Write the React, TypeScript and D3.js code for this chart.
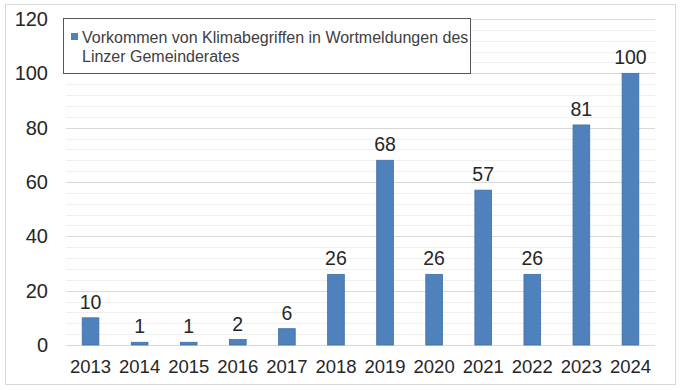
import React, { useEffect, useRef } from 'react';
import * as d3 from 'd3';

const years = ['2013', '2014', '2015', '2016', '2017', '2018', '2019', '2020', '2021', '2022', '2023', '2024'];
const counts = [10, 1, 1, 2, 6, 26, 68, 26, 57, 26, 81, 100];
const yTicks = [0, 20, 40, 60, 80, 100, 120];
const legendLines = ['Vorkommen von Klimabegriffen in Wortmeldungen des', 'Linzer Gemeinderates'];

const FONT = 'Liberation Sans, Arial, sans-serif';

export default function App() {
  const ref = useRef<SVGSVGElement>(null);
  const width = 680;
  const height = 390;
  const margin = { top: 19, right: 25, bottom: 45, left: 66 };

  useEffect(() => {
    const svg = d3.select(ref.current);
    svg.selectAll('*').remove();

    svg.append('rect')
      .attr('x', 5.5).attr('y', 4.5)
      .attr('width', 670).attr('height', 380)
      .attr('fill', '#fff')
      .attr('stroke', '#d9d9d9');

    const x = d3.scaleBand()
      .domain(years)
      .range([margin.left, width - margin.right])
      .paddingInner(0.66)
      .paddingOuter(0.33);

    const y = d3.scaleLinear()
      .domain([0, 120])
      .range([height - margin.bottom, margin.top]);

    // gridlines every 4 units, stronger every 20
    svg.append('g')
      .selectAll('line')
      .data(d3.range(4, 121, 4))
      .enter().append('line')
      .attr('x1', margin.left)
      .attr('x2', width - margin.right)
      .attr('y1', d => Math.round(y(d)) + 0.5)
      .attr('y2', d => Math.round(y(d)) + 0.5)
      .attr('stroke', d => d % 20 === 0 ? '#d9d9d9' : '#efefef');

    svg.append('line')
      .attr('x1', margin.left)
      .attr('x2', width - margin.right)
      .attr('y1', Math.round(y(0)) + 0.5)
      .attr('y2', Math.round(y(0)) + 0.5)
      .attr('stroke', '#d9d9d9');

    svg.append('g')
      .selectAll('text')
      .data(yTicks)
      .enter().append('text')
      .attr('x', 48)
      .attr('y', d => y(d))
      .attr('dy', '0.35em')
      .attr('text-anchor', 'end')
      .attr('font-family', FONT)
      .attr('font-size', 20)
      .attr('fill', '#262626')
      .text(d => d);

    svg.append('g')
      .selectAll('rect')
      .data(counts)
      .enter().append('rect')
      .attr('x', (d, i) => x(years[i])!)
      .attr('y', d => y(d))
      .attr('width', x.bandwidth())
      .attr('height', d => y(0) - y(d))
      .attr('fill', '#4f81bd')
      .attr('stroke', '#3f6fa8')
      .attr('stroke-width', 0.8);

    svg.append('g')
      .selectAll('text')
      .data(counts)
      .enter().append('text')
      .attr('x', (d, i) => x(years[i])! + x.bandwidth() / 2)
      .attr('y', d => y(d) - 9)
      .attr('text-anchor', 'middle')
      .attr('font-family', FONT)
      .attr('font-size', 19.5)
      .attr('fill', '#262626')
      .text(d => d);

    svg.append('g')
      .selectAll('text')
      .data(years)
      .enter().append('text')
      .attr('x', d => x(d)! + x.bandwidth() / 2)
      .attr('y', 373)
      .attr('text-anchor', 'middle')
      .attr('font-family', FONT)
      .attr('font-size', 18.5)
      .attr('fill', '#262626')
      .text(d => d);

    // legend
    const lg = svg.append('g');
    lg.append('rect')
      .attr('x', 63.5).attr('y', 18.5)
      .attr('width', 407).attr('height', 55)
      .attr('fill', '#fff')
      .attr('stroke', '#555');
    lg.append('rect')
      .attr('x', 71).attr('y', 33)
      .attr('width', 7).attr('height', 7)
      .attr('fill', '#4f81bd');
    lg.selectAll('text')
      .data(legendLines)
      .enter().append('text')
      .attr('x', 82)
      .attr('y', (d, i) => 43 + i * 19)
      .attr('font-family', FONT)
      .attr('font-size', 16)
      .attr('fill', '#404040')
      .text(d => d);
  }, []);

  return <svg ref={ref} width={width} height={height} style={{ position: 'absolute', left: 0, top: 0 }}></svg>;
}
